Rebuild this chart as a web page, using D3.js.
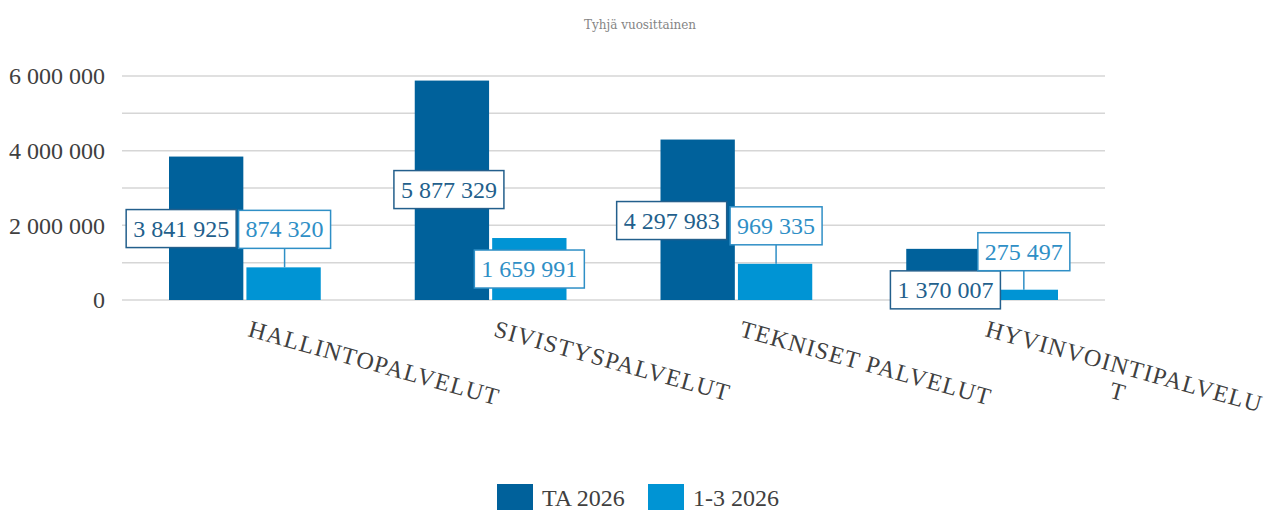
<!DOCTYPE html>
<html>
<head>
<meta charset="utf-8">
<script src="https://cdn.jsdelivr.net/npm/d3@7"></script>
<style>
  html, body { margin: 0; padding: 0; background: #fff; }
  svg text { font-family: "Liberation Serif", "DejaVu Serif", serif; }
</style>
</head>
<body>
<svg id="chart"></svg>
<script>
const categories = ["HALLINTOPALVELUT", "SIVISTYSPALVELUT", "TEKNISET PALVELUT", "HYVINVOINTIPALVELUT"];
const seriesNames = ["TA 2026", "1-3 2026"];
const ta2026 = [3841925, 5877329, 4297983, 1370007];
const q2026 = [874320, 1659991, 969335, 275497];
const yTicks = [0, 1000000, 2000000, 3000000, 4000000, 5000000, 6000000];
const yLabelTicks = [0, 2000000, 4000000, 6000000];

// label callout placement, relative to the bar top centre
const labelShift = [
  [[-25, 72], [1, -38]],
  [[-3, 109], [0, 31]],
  [[-26, 81], [1, -38]],
  [[2, 41], [3, -38]]
];

const width = 1270, height = 510;
const colors = ["#00619b", "#0094d4"];
const labelColors = ["#235f8c", "#2f8fc6"];

const svg = d3.select("#chart").attr("width", width).attr("height", height);

const loc = d3.formatLocale({ decimal: ",", thousands: " ", grouping: [3], currency: ["", ""] });
const fmt = loc.format(",d");

const x0 = d3.scaleBand().domain(categories).range([122, 1105]).padding(0);
const x1 = d3.scaleBand().domain(seriesNames).range([47, x0.bandwidth() - 47]).paddingInner(0.04);
const y = d3.scaleLinear().domain([0, 6000000]).range([300, 76]);

// title
svg.append("text")
  .attr("x", 640).attr("y", 29)
  .attr("text-anchor", "middle")
  .attr("font-size", 12)
  .style("font-family", "'DejaVu Serif', serif")
  .attr("fill", "#858585")
  .text("Tyhjä vuosittainen");

// grid
svg.append("g").selectAll("line").data(yTicks).join("line")
  .attr("x1", 122).attr("x2", 1105)
  .attr("y1", d => y(d)).attr("y2", d => y(d))
  .attr("stroke", "#d6d6d6").attr("stroke-width", 1.5);

// y axis labels
const yAxis = svg.append("g")
  .attr("transform", "translate(105,0)")
  .call(d3.axisLeft(y).tickValues(yLabelTicks).tickFormat(fmt).tickSize(0).tickPadding(0));
yAxis.select(".domain").remove();
yAxis.selectAll("text")
  .attr("font-family", "Liberation Serif, serif")
  .attr("font-size", 24)
  .attr("fill", "#404040");

// bars
const values = [ta2026, q2026];
const groups = svg.append("g").selectAll("g").data(categories).join("g")
  .attr("transform", d => `translate(${x0(d)},0)`);

groups.selectAll("rect")
  .data((c, i) => seriesNames.map((s, k) => ({ s, k, v: values[k][i] })))
  .join("rect")
  .attr("x", d => x1(d.s))
  .attr("width", x1.bandwidth())
  .attr("y", d => y(d.v))
  .attr("height", d => y(0) - y(d.v))
  .attr("fill", d => colors[d.k]);

// x labels
const xl = svg.append("g");
categories.forEach((c, i) => {
  const cx = x0(c) + x0.bandwidth() / 2;
  const g = xl.append("g").attr("transform", `translate(${cx + 2},336) rotate(15.5)`);
  const lines = c === "HYVINVOINTIPALVELUT" ? ["HYVINVOINTIPALVELU", "T"] : [c];
  const t1 = g.append("text")
    .attr("font-size", 24).attr("fill", "#404040")
    .attr("letter-spacing", 1.2)
    .text(lines[0]);
  if (lines.length > 1) {
    const w = t1.node().getComputedTextLength();
    g.append("text")
      .attr("x", w / 2).attr("y", 26)
      .attr("text-anchor", "middle")
      .attr("font-size", 24).attr("fill", "#404040")
      .text(lines[1]);
  }
});

// data label callouts
const lab = svg.append("g");
categories.forEach((c, i) => {
  seriesNames.forEach((s, k) => {
    const v = values[k][i];
    const bx = x0(c) + x1(s) + x1.bandwidth() / 2;
    const by = y(v);
    const [dx, dy] = labelShift[i][k];
    const lx = bx + dx, ly = by + dy;
    const g = lab.append("g");
    const t = g.append("text")
      .attr("x", lx).attr("y", ly)
      .attr("text-anchor", "middle")
      .attr("dominant-baseline", "central")
      .attr("font-size", 24)
      .attr("fill", labelColors[k])
      .text(fmt(v));
    const w = t.node().getComputedTextLength() + 14;
    const h = 38;
    if (dy < 0) {
      g.insert("line", "text")
        .attr("x1", lx).attr("x2", lx)
        .attr("y1", ly + h / 2).attr("y2", by)
        .attr("stroke", labelColors[k]).attr("stroke-width", 1.5);
    }
    g.insert("rect", "text")
      .attr("x", lx - w / 2).attr("y", ly - h / 2)
      .attr("width", w).attr("height", h)
      .attr("fill", "#fff")
      .attr("stroke", labelColors[k]).attr("stroke-width", 1.5);
  });
});

// legend
const legend = svg.append("g");
const legendX = [497, 648];
seriesNames.forEach((s, k) => {
  legend.append("rect")
    .attr("x", legendX[k]).attr("y", 484)
    .attr("width", 36).attr("height", 27)
    .attr("fill", colors[k]);
  legend.append("text")
    .attr("x", legendX[k] + 45).attr("y", 506)
    .attr("font-size", 24).attr("fill", "#404040")
    .text(s);
});
</script>
</body>
</html>
